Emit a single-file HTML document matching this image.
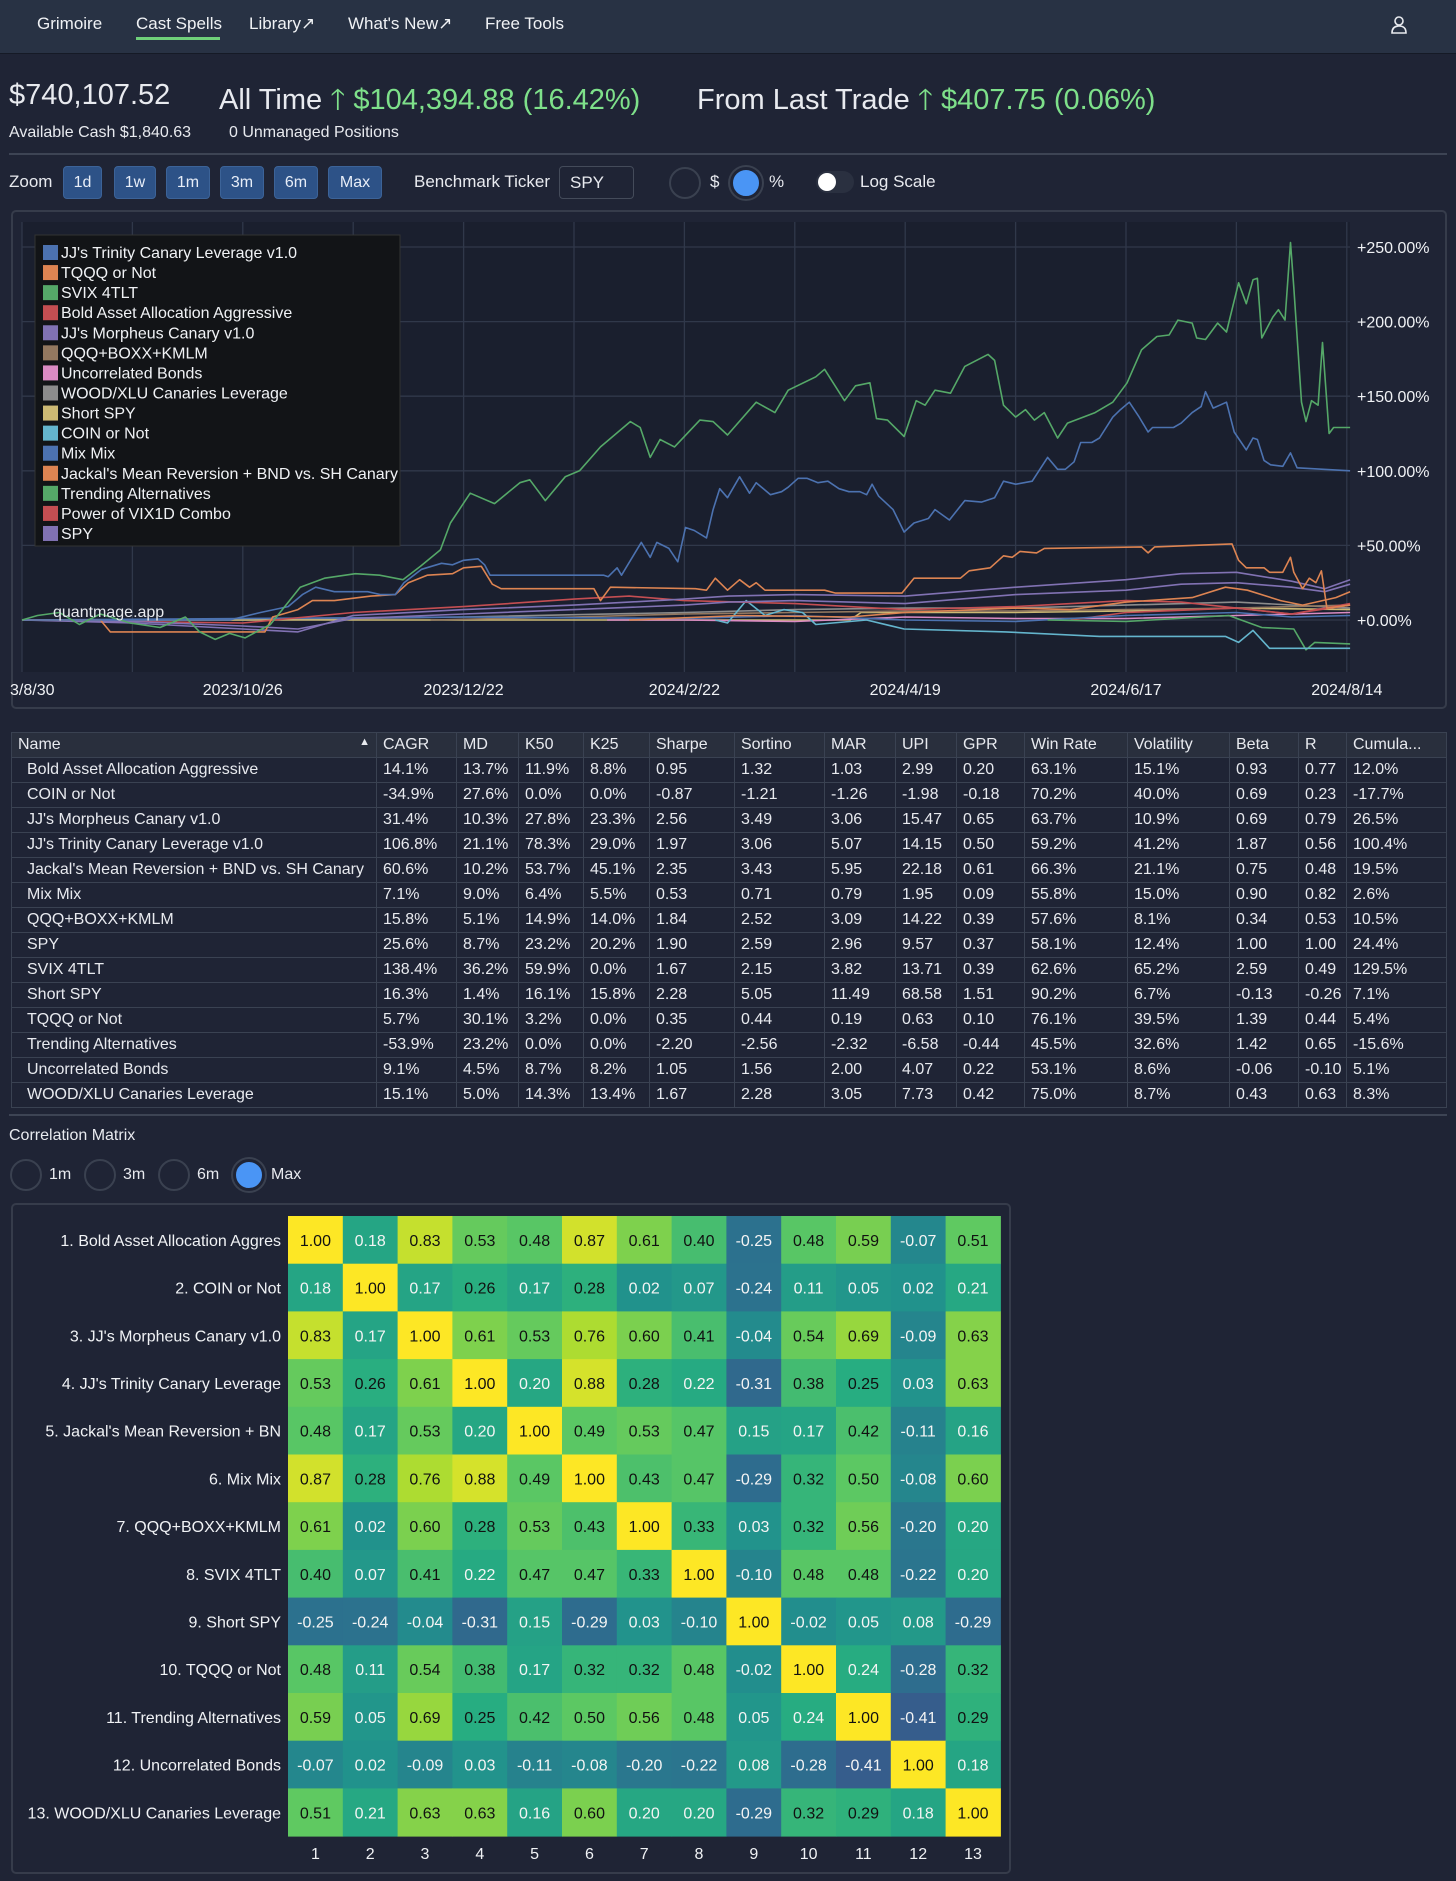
<!DOCTYPE html>
<html><head><meta charset="utf-8">
<style>
*{box-sizing:border-box;margin:0;padding:0}
body{width:1456px;height:1881px;background:#1f2435;color:#e8eaef;font-family:"Liberation Sans",sans-serif;position:relative;overflow:hidden}
.abs{position:absolute;white-space:nowrap}
#nav{position:absolute;left:0;top:0;width:1456px;height:54px;background:#283244;border-bottom:1px solid #151a26}
.nav-item{position:absolute;top:14px;font-size:17px;color:#f0f2f5}
.zbtn{position:absolute;top:166px;height:33px;background:#2d5287;border:1px solid #3c6398;border-radius:4px;color:#e8eef8;font-size:16px;text-align:center;line-height:31px}
.radio{position:absolute;width:32px;height:32px;border-radius:50%;border:2px solid #3a4150;background:#1f2435}
.radio.on{background:#4a95f5;border:3px solid #1f2435;box-shadow:0 0 0 2px #3a4150}
table{border-collapse:collapse;font-size:16px}
td,th{height:25px;padding:0 6px;border:1px solid #3a4252;text-align:left;font-weight:normal;white-space:nowrap;overflow:hidden}
th{background:#292f3d}
</style></head><body>
<div id="nav">
  <span class="nav-item" style="left:37px">Grimoire</span>
  <span class="nav-item" style="left:136px">Cast Spells</span>
  <div class="abs" style="left:136px;top:37px;width:84px;height:3px;background:#6fd07a"></div>
  <span class="nav-item" style="left:249px">Library↗</span>
  <span class="nav-item" style="left:348px">What's New↗</span>
  <span class="nav-item" style="left:485px">Free Tools</span>
  <svg class="abs" style="left:1390px;top:15px" width="18" height="20"><circle cx="9" cy="6" r="4" fill="none" stroke="#e8eaef" stroke-width="1.6"/><path d="M2 18 Q2 11 9 11 Q16 11 16 18 Z" fill="none" stroke="#e8eaef" stroke-width="1.6"/></svg>
</div>

<div class="abs" style="left:9px;top:79px;font-size:29px">$740,107.52</div>
<div class="abs" style="left:219px;top:79px;font-size:29px">All Time <span style="color:#7ee08a">🡑</span><span style="color:#7ee08a"> $104,394.88 (16.42%)</span></div>
<div class="abs" style="left:697px;top:79px;font-size:29px">From Last Trade <span style="color:#7ee08a">🡑</span><span style="color:#7ee08a"> $407.75 (0.06%)</span></div>
<div class="abs" style="left:9px;top:124px;font-size:16px">Available Cash $1,840.63</div>
<div class="abs" style="left:229px;top:124px;font-size:16px">0 Unmanaged Positions</div>
<div class="abs" style="left:9px;top:153px;width:1438px;height:2px;background:#3d4454"></div>

<div class="abs" style="left:9px;top:172px;font-size:17px">Zoom</div>
<div class="zbtn" style="left:63px;width:39px">1d</div>
<div class="zbtn" style="left:114px;width:42px">1w</div>
<div class="zbtn" style="left:166px;width:44px">1m</div>
<div class="zbtn" style="left:220px;width:44px">3m</div>
<div class="zbtn" style="left:274px;width:44px">6m</div>
<div class="zbtn" style="left:328px;width:54px">Max</div>
<div class="abs" style="left:414px;top:172px;font-size:17px">Benchmark Ticker</div>
<div class="abs" style="left:559px;top:166px;width:75px;height:33px;border:1px solid #444b5a;border-radius:4px;font-size:17px;padding:6px 10px">SPY</div>
<div class="radio" style="left:669px;top:167px"></div>
<div class="abs" style="left:710px;top:172px;font-size:17px">$</div>
<div class="radio on" style="left:730px;top:167px"></div>
<div class="abs" style="left:769px;top:172px;font-size:17px">%</div>
<div class="abs" style="left:816px;top:171px;width:38px;height:22px;border-radius:11px;background:#2a3040"><div style="position:absolute;left:2px;top:2px;width:18px;height:18px;border-radius:50%;background:#fff"></div></div>
<div class="abs" style="left:860px;top:172px;font-size:17px">Log Scale</div>

<div class="abs" style="left:11px;top:210px;width:1436px;height:499px;border:2px solid #363c4b;border-radius:5px"></div>
<svg id="chart" class="abs" style="left:0;top:0" width="1456" height="720"></svg>

<div id="tablewrap" class="abs" style="left:11px;top:732px"></div>
<div class="abs" style="left:9px;top:1114px;width:1438px;height:2px;background:#3d4454"></div>

<div class="abs" style="left:9px;top:1127px;font-size:16px">Correlation Matrix</div>
<div class="radio" style="left:10px;top:1159px"></div>
<div class="abs" style="left:49px;top:1166px;font-size:16px">1m</div>
<div class="radio" style="left:84px;top:1159px"></div>
<div class="abs" style="left:123px;top:1166px;font-size:16px">3m</div>
<div class="radio" style="left:158px;top:1159px"></div>
<div class="abs" style="left:197px;top:1166px;font-size:16px">6m</div>
<div class="radio on" style="left:233px;top:1159px"></div>
<div class="abs" style="left:271px;top:1166px;font-size:16px">Max</div>
<div class="abs" style="left:11px;top:1203px;width:1000px;height:671px;border:2px solid #363c4b;border-radius:5px"></div>
<svg id="heat" class="abs" style="left:0;top:1200px" width="1456" height="681"></svg>

<script>
const NS="http://www.w3.org/2000/svg";
function mk(parent,tag,attrs){const e=document.createElementNS(NS,tag);for(const k in attrs)e.setAttribute(k,attrs[k]);parent.appendChild(e);return e;}

// ---------- chart data ----------
const yTicks=[250,200,150,100,50,0];
const xTickLabels=["3/8/30","2023/10/26","2023/12/22","2024/2/22","2024/4/19","2024/6/17","2024/8/14"];
const xTickPos=[0,2,4,6,8,10,12];
const legendNames=["JJ's Trinity Canary Leverage v1.0","TQQQ or Not","SVIX 4TLT","Bold Asset Allocation Aggressive","JJ's Morpheus Canary v1.0","QQQ+BOXX+KMLM","Uncorrelated Bonds","WOOD/XLU Canaries Leverage","Short SPY","COIN or Not","Mix Mix","Jackal's Mean Reversion + BND vs. SH Canary","Trending Alternatives","Power of VIX1D Combo","SPY"];
const seriesColors=["#4c72b0","#dd8452","#55a868","#c44e52","#8172b3","#937860","#da8bc3","#8c8c8c","#ccb974","#64b5cd","#4c72b0","#dd8452","#55a868","#c44e52","#8172b3"];

const trinityT=[0,1.88,2.16,2.41,2.54,2.66,2.83,3.13,3.25,3.38,3.46,3.62,3.8,3.9,4.0,4.13,4.19,4.24,5.27,5.31,5.39,5.43,5.61,5.69,5.75,5.86,5.94,6.01,6.09,6.2,6.26,6.32,6.39,6.5,6.59,6.65,6.78,6.88,6.94,7.03,7.11,7.21,7.3,7.4,7.49,7.59,7.65,7.7,7.76,7.89,7.99,8.08,8.21,8.27,8.4,8.54,8.69,8.81,8.89,9.0,9.15,9.29,9.38,9.45,9.53,9.59,9.69,9.76,9.88,9.95,10.03,10.12,10.2,10.24,10.43,10.5,10.6,10.68,10.72,10.79,10.91,10.98,11.09,11.15,11.19,11.25,11.31,11.42,11.49,11.55,12.03];
const trinityV=[0,0,5,9,17,22,19,19,17,17,25,34,38,37,40,41,37,30,30,29,35,30,52,42,52,48,39,62,60,55,74,88,82,96,85,92,84,86,89,95,95,92,93,88,86,86,84,91,83,74,59,65,68,74,67,80,79,82,93,91,93,109,101,101,106,119,119,122,136,141,146,136,126,129,129,132,139,143,153,142,146,126,114,122,121,107,104,103,112,102,100];
const tqqqT=[0,0.71,0.8,2.2,2.27,2.5,2.63,2.83,3.16,3.38,3.5,3.67,3.9,4.0,4.16,4.26,4.34,5.18,5.24,5.33,6.1,6.2,6.28,6.39,6.5,6.59,6.65,6.73,7.27,7.37,7.97,8.08,8.5,8.58,8.77,8.89,8.97,9.04,9.19,9.26,10.14,10.2,10.26,10.6,10.96,11.02,11.09,11.25,11.3,11.42,11.49,11.52,11.6,11.66,11.72,11.77,11.82,12.03];
const tqqqV=[0,0,-8,-8,2,7,13,13,16,17,25,30,31,35,36,24,21,21,13,22,21,20,28,20,27,22,25,20,20,18,18,28,28,33,35,43,42,46,45,48,49,45,49,50,51,40,35,35,32,32,42,32,21,28,25,33,8,10];
const svixT=[0,0.14,0.34,0.52,0.71,0.98,1.25,1.48,1.61,1.75,1.88,2.02,2.25,2.52,2.74,3.02,3.24,3.45,3.61,3.79,3.88,4.06,4.28,4.51,4.6,4.74,4.92,5.05,5.24,5.51,5.6,5.69,5.78,5.91,6.14,6.26,6.39,6.65,6.82,6.94,7.19,7.27,7.45,7.55,7.68,7.74,7.84,7.99,8.1,8.18,8.27,8.41,8.54,8.75,8.81,8.89,9.0,9.09,9.17,9.26,9.38,9.47,9.72,9.88,10.01,10.14,10.28,10.39,10.47,10.6,10.64,10.72,10.83,10.91,11.02,11.09,11.15,11.19,11.23,11.33,11.38,11.44,11.49,11.52,11.59,11.63,11.68,11.74,11.78,11.84,11.88,12.03];
const svixV=[0,3,5,-3,4,-2,-5,2,-8,-13,-9,-12,-3,22,28,31,30,27,36,47,65,85,78,92,94,80,96,100,116,133,129,109,121,116,134,133,124,146,139,154,163,168,147,157,159,135,134,123,147,144,154,152,170,178,174,144,136,141,134,139,122,132,139,146,159,181,190,191,201,199,189,188,199,193,226,212,228,229,189,203,208,201,253,223,146,133,147,144,186,125,129,129];
const boldT=[0,1,2,3,4,5,5.5,6,7,8,9,10,10.5,11,11.5,12.03];
const boldV=[0,-1,-2,5,9,14,16,13,11,7,9,13,12,8,4,10];
const morphT=[0,1,2,2.5,3,4,5,6,6.4,7,8,9,10,10.5,11,11.5,11.8,12.03];
const morphV=[0,-2,-6,-8,3,7,10,14,16,17,16,22,27,31,32,26,21,27];
const qqqT=[3.7,5,6,7,8,9,10,11,12.03];
const qqqV=[0,2,4,5,6,6,7,8,10];
const uncorrT=[5.3,6,7,8,9,10,11,12.03];
const uncorrV=[0,0,-1,2,1,1,3,5];
const woodT=[0,2,4,6,7,8,9,10,11,12.03];
const woodV=[0,0,2,5,7,8,8,10,12,8];
const shortT=[0,3,6,7.5,7.6,9,10,11,12.03];
const shortV=[0,0,0,0,5,5,6,8,7];
const coinT=[6.28,6.39,6.56,6.73,6.9,7.07,7.19,7.65,7.99,8.91,9.76,10.9,11.02,11.15,11.3,12.03];
const coinV=[0,-2,13,3,7,5,-3,0,-6,-8,-11,-11,-15,-7,-19,-19];
const mixT=[0,2,4,6,7,8,9,10,11,11.5,12.03];
const mixV=[0,1,2,1,3,0,-1,3,5,2,3];
const jackalT=[5.5,6.5,7.5,8,9,9.5,10,10.6,10.9,11.1,11.4,11.6,11.9,12.03];
const jackalV=[0,3,2,5,8,7,12,15,22,20,13,10,15,19];
const trendT=[9.29,10,10.93,11.23,11.52,11.63,11.71,12.03];
const trendV=[0,-1,3,-5,-6,-20,-15,-16];
const vixT=[9.5,10,11,11.5,12.03];
const vixV=[0,5,8,4,11];
const spyT=morphT;
const spyV=[0,-1,-4,-6,1,4,7,10,12,13,11,17,20,24,25,22,19,24];

const seriesT=[trinityT,tqqqT,svixT,boldT,morphT,qqqT,uncorrT,woodT,shortT,coinT,mixT,jackalT,trendT,vixT,spyT];
const seriesV=[trinityV,tqqqV,svixV,boldV,morphV,qqqV,uncorrV,woodV,shortV,coinV,mixV,jackalV,trendV,vixV,spyV];
const seriesKeys=["trinity","tqqq","svix","bold","morpheus","qqq-boxx","uncorrelated","wood-xlu","short-spy","coin","mix-mix","jackal","trending","vix1d","spy"];
const drawOrder=[7,8,5,6,13,10,12,9,3,11,14,4,1,0,2];

const PL=22,PR=1350,PT=222,PB=672;
function xS(t){return 22+t*110.4;}
function yS(v){return 620-v*1.492;}

const svg=document.getElementById('chart');
const bg=mk(svg,'rect',{x:PL,y:PT,width:PR-PL,height:PB-PT,fill:'#1a1f2e'});


for(let i=0;i<=12;i++){
  const l=mk(svg,'line',{x1:xS(i),x2:xS(i),y1:PT,y2:PB,stroke:'#30384a','stroke-width':1.3});
  
  
}
yTicks.forEach(v=>{
  const l=mk(svg,'line',{x1:PL,x2:PR,y1:yS(v),y2:yS(v),stroke:'#30384a','stroke-width':1.3});
  
  
  const t=mk(svg,'text',{x:1357,y:yS(v)+6,fill:'#f0f2f5','font-size':16,'font-family':'Liberation Sans, sans-serif'});
  t.textContent='+'+v.toFixed(2)+'%';
  
  
});
xTickLabels.forEach((s,i)=>{
  const anchor=i===0?'start':'middle';
  const t=mk(svg,'text',{x:i===0?10:xS(xTickPos[i]),y:695,fill:'#f0f2f5','font-size':16,'text-anchor':anchor,'font-family':'Liberation Sans, sans-serif'});
  t.textContent=s;
  
  
});
drawOrder.forEach(i=>{
  const T=seriesT[i],V=seriesV[i];
  const d=T.map((t,k)=>(k?'L':'M')+xS(t).toFixed(1)+' '+yS(V[k]).toFixed(1)).join(' ');
  const p=mk(svg,'path',{d:d,fill:'none',stroke:seriesColors[i],'stroke-width':1.6,'stroke-linejoin':'round'});
  
  
});
const wm=mk(svg,'text',{x:53,y:617,fill:'#e8eaef','font-size':16,'font-family':'Liberation Sans, sans-serif'});
wm.textContent='quantmage.app';


const lg=mk(svg,'rect',{x:35,y:235,width:365,height:311,fill:'#121417',stroke:'#333','stroke-width':1});


legendNames.forEach((n,i)=>{
  const y=252+i*20.07;
  const s=mk(svg,'rect',{x:43,y:y-7,width:15,height:15,fill:seriesColors[i]});
  
  
  const t=mk(svg,'text',{x:61,y:y+6,fill:'#f0f2f5','font-size':16,'font-family':'Liberation Sans, sans-serif'});
  t.textContent=n;
  
  
});

// ---------- table ----------
const colHeads=["Name","CAGR","MD","K50","K25","Sharpe","Sortino","MAR","UPI","GPR","Win Rate","Volatility","Beta","R","Cumula..."];
const colWidths=[365,80,62,65,66,85,90,71,61,68,103,102,69,48,100];
const rowNames=["Bold Asset Allocation Aggressive","COIN or Not","JJ's Morpheus Canary v1.0","JJ's Trinity Canary Leverage v1.0","Jackal's Mean Reversion + BND vs. SH Canary","Mix Mix","QQQ+BOXX+KMLM","SPY","SVIX 4TLT","Short SPY","TQQQ or Not","Trending Alternatives","Uncorrelated Bonds","WOOD/XLU Canaries Leverage"];
const rowVals=[
["14.1%","13.7%","11.9%","8.8%","0.95","1.32","1.03","2.99","0.20","63.1%","15.1%","0.93","0.77","12.0%"],
["-34.9%","27.6%","0.0%","0.0%","-0.87","-1.21","-1.26","-1.98","-0.18","70.2%","40.0%","0.69","0.23","-17.7%"],
["31.4%","10.3%","27.8%","23.3%","2.56","3.49","3.06","15.47","0.65","63.7%","10.9%","0.69","0.79","26.5%"],
["106.8%","21.1%","78.3%","29.0%","1.97","3.06","5.07","14.15","0.50","59.2%","41.2%","1.87","0.56","100.4%"],
["60.6%","10.2%","53.7%","45.1%","2.35","3.43","5.95","22.18","0.61","66.3%","21.1%","0.75","0.48","19.5%"],
["7.1%","9.0%","6.4%","5.5%","0.53","0.71","0.79","1.95","0.09","55.8%","15.0%","0.90","0.82","2.6%"],
["15.8%","5.1%","14.9%","14.0%","1.84","2.52","3.09","14.22","0.39","57.6%","8.1%","0.34","0.53","10.5%"],
["25.6%","8.7%","23.2%","20.2%","1.90","2.59","2.96","9.57","0.37","58.1%","12.4%","1.00","1.00","24.4%"],
["138.4%","36.2%","59.9%","0.0%","1.67","2.15","3.82","13.71","0.39","62.6%","65.2%","2.59","0.49","129.5%"],
["16.3%","1.4%","16.1%","15.8%","2.28","5.05","11.49","68.58","1.51","90.2%","6.7%","-0.13","-0.26","7.1%"],
["5.7%","30.1%","3.2%","0.0%","0.35","0.44","0.19","0.63","0.10","76.1%","39.5%","1.39","0.44","5.4%"],
["-53.9%","23.2%","0.0%","0.0%","-2.20","-2.56","-2.32","-6.58","-0.44","45.5%","32.6%","1.42","0.65","-15.6%"],
["9.1%","4.5%","8.7%","8.2%","1.05","1.56","2.00","4.07","0.22","53.1%","8.6%","-0.06","-0.10","5.1%"],
["15.1%","5.0%","14.3%","13.4%","1.67","2.28","3.05","7.73","0.42","75.0%","8.7%","0.43","0.63","8.3%"]];
const tbl=document.createElement('table');


tbl.style.tableLayout='fixed';tbl.style.width='1436px';
const hr=document.createElement('tr');
colHeads.forEach((h,i)=>{const th=document.createElement('th');th.style.width=colWidths[i]+'px';th.textContent=h;
  if(i===0){th.innerHTML='Name<span style="float:right;font-size:11px">▲</span>';}
  
  
  hr.appendChild(th);});
tbl.appendChild(hr);
rowNames.forEach((n,r)=>{const tr=document.createElement('tr');
  
  
  const td=document.createElement('td');td.style.paddingLeft='15px';td.textContent=n;tr.appendChild(td);
  rowVals[r].forEach(v=>{const c=document.createElement('td');c.textContent=v;tr.appendChild(c);});
  tbl.appendChild(tr);});
document.getElementById('tablewrap').appendChild(tbl);

// ---------- heatmap ----------
const hmLabels=["1. Bold Asset Allocation Aggres","2. COIN or Not","3. JJ's Morpheus Canary v1.0","4. JJ's Trinity Canary Leverage","5. Jackal's Mean Reversion + BN","6. Mix Mix","7. QQQ+BOXX+KMLM","8. SVIX 4TLT","9. Short SPY","10. TQQQ or Not","11. Trending Alternatives","12. Uncorrelated Bonds","13. WOOD/XLU Canaries Leverage"];
const corr=[
[1.00,0.18,0.83,0.53,0.48,0.87,0.61,0.40,-0.25,0.48,0.59,-0.07,0.51],
[0.18,1.00,0.17,0.26,0.17,0.28,0.02,0.07,-0.24,0.11,0.05,0.02,0.21],
[0.83,0.17,1.00,0.61,0.53,0.76,0.60,0.41,-0.04,0.54,0.69,-0.09,0.63],
[0.53,0.26,0.61,1.00,0.20,0.88,0.28,0.22,-0.31,0.38,0.25,0.03,0.63],
[0.48,0.17,0.53,0.20,1.00,0.49,0.53,0.47,0.15,0.17,0.42,-0.11,0.16],
[0.87,0.28,0.76,0.88,0.49,1.00,0.43,0.47,-0.29,0.32,0.50,-0.08,0.60],
[0.61,0.02,0.60,0.28,0.53,0.43,1.00,0.33,0.03,0.32,0.56,-0.20,0.20],
[0.40,0.07,0.41,0.22,0.47,0.47,0.33,1.00,-0.10,0.48,0.48,-0.22,0.20],
[-0.25,-0.24,-0.04,-0.31,0.15,-0.29,0.03,-0.10,1.00,-0.02,0.05,0.08,-0.29],
[0.48,0.11,0.54,0.38,0.17,0.32,0.32,0.48,-0.02,1.00,0.24,-0.28,0.32],
[0.59,0.05,0.69,0.25,0.42,0.50,0.56,0.48,0.05,0.24,1.00,-0.41,0.29],
[-0.07,0.02,-0.09,0.03,-0.11,-0.08,-0.20,-0.22,0.08,-0.28,-0.41,1.00,0.18],
[0.51,0.21,0.63,0.63,0.16,0.60,0.20,0.20,-0.29,0.32,0.29,0.18,1.00]];
const vir=[[0,[68,1,84]],[0.125,[71,44,122]],[0.25,[59,81,139]],[0.375,[44,113,142]],[0.5,[33,144,141]],[0.625,[39,173,129]],[0.75,[92,200,99]],[0.875,[170,220,50]],[1,[253,231,37]]];
function viridis(f){f=Math.max(0,Math.min(1,f));for(let i=1;i<vir.length;i++){if(f<=vir[i][0]){const a=vir[i-1],b=vir[i];const u=(f-a[0])/(b[0]-a[0]);return 'rgb('+a[1].map((c,k)=>Math.round(c+(b[1][k]-c)*u)).join(',')+')';}}}
const vmin=-1.0,vmax=1.0;
const HX=288,HY=16,CW=54.8,CH=47.7;
const hs=document.getElementById('heat');
corr.forEach((row,r)=>{
  const lab=mk(hs,'text',{x:281,y:HY+r*CH+CH/2+6,fill:'#f0f2f5','font-size':16,'text-anchor':'end','font-family':'Liberation Sans, sans-serif'});
  lab.textContent=hmLabels[r];
  
  
  row.forEach((v,c)=>{
    const f=(v-vmin)/(vmax-vmin);
    const cell=mk(hs,'rect',{x:HX+c*CW,y:HY+r*CH,width:CW+0.5,height:CH+0.5,fill:viridis(f)});
    
    
    const t=mk(hs,'text',{x:HX+c*CW+CW/2,y:HY+r*CH+CH/2+6,fill:v>=0.25?'#111':'#f4f4f4','font-size':16,'text-anchor':'middle','font-family':'Liberation Sans, sans-serif'});
    t.textContent=v.toFixed(2);
    
    
  });
});
hmLabels.forEach((l,c)=>{
  const t=mk(hs,'text',{x:HX+c*CW+CW/2,y:659,fill:'#f0f2f5','font-size':16,'text-anchor':'middle','font-family':'Liberation Sans, sans-serif'});
  t.textContent=String(c+1);
  
  
});
</script>
</body></html>
